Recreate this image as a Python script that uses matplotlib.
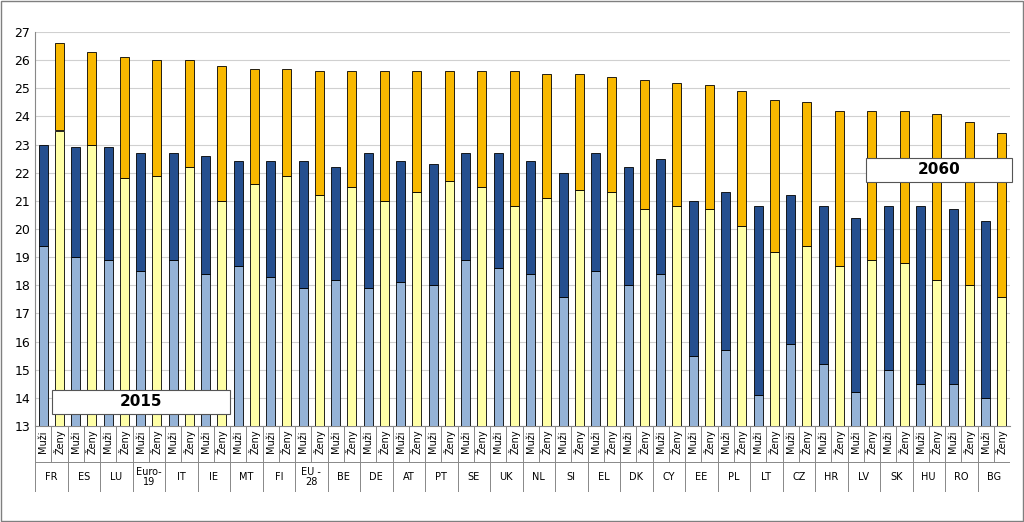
import matplotlib.pyplot as plt
import numpy as np

countries = ["FR", "ES", "LU", "Euro-\n19", "IT", "IE", "MT", "FI", "EU -\n28", "BE",
             "DE", "AT", "PT", "SE", "UK", "NL", "SI", "EL", "DK", "CY",
             "EE", "PL", "LT", "CZ", "HR", "LV", "SK", "HU", "RO", "BG"]
men_2015 = [19.4, 19.0, 18.9, 18.5, 18.9, 18.4, 18.7, 18.3, 17.9, 18.2,
            17.9, 18.1, 18.0, 18.9, 18.6, 18.4, 17.6, 18.5, 18.0, 18.4,
            15.5, 15.7, 14.1, 15.9, 15.2, 14.2, 15.0, 14.5, 14.5, 14.0]
men_2060 = [23.0, 22.9, 22.9, 22.7, 22.7, 22.6, 22.4, 22.4, 22.4, 22.2,
            22.7, 22.4, 22.3, 22.7, 22.7, 22.4, 22.0, 22.7, 22.2, 22.5,
            21.0, 21.3, 20.8, 21.2, 20.8, 20.4, 20.8, 20.8, 20.7, 20.3]
women_2015 = [23.5, 23.0, 21.8, 21.9, 22.2, 21.0, 21.6, 21.9, 21.2, 21.5,
              21.0, 21.3, 21.7, 21.5, 20.8, 21.1, 21.4, 21.3, 20.7, 20.8,
              20.7, 20.1, 19.2, 19.4, 18.7, 18.9, 18.8, 18.2, 18.0, 17.6]
women_2060 = [26.6, 26.3, 26.1, 26.0, 26.0, 25.8, 25.7, 25.7, 25.6, 25.6,
              25.6, 25.6, 25.6, 25.6, 25.6, 25.5, 25.5, 25.4, 25.3, 25.2,
              25.1, 24.9, 24.6, 24.5, 24.2, 24.2, 24.2, 24.1, 23.8, 23.4]
sex_labels = ["Muži", "Ženy"]

BASE = 13
W, H = 1024, 522
fig = plt.figure(figsize=(10.24, 5.22), dpi=100)
ax = fig.add_axes([35 / W, (H - 426) / H, 975 / W, 394 / H])
n = len(countries)
xm = np.arange(n) * 2
xf = xm + 1
m15 = np.array(men_2015); m60 = np.array(men_2060)
f15 = np.array(women_2015); f60 = np.array(women_2060)
kw = dict(width=0.55, edgecolor="black", linewidth=0.6, zorder=3)
ax.bar(xm, m15 - BASE, bottom=BASE, color="#95B3D7", **kw)
ax.bar(xm, m60 - m15, bottom=m15, color="#254F8F", **kw)
ax.bar(xf, f15 - BASE, bottom=BASE, color="#FFFFA6", **kw)
ax.bar(xf, f60 - f15, bottom=f15, color="#F8B800", **kw)
ax.set_xlim(-0.5, 2 * n - 0.5)
ax.set_ylim(13, 27)
ax.set_yticks(range(13, 28))
ax.tick_params(axis="y", labelsize=9, length=0)
ax.set_xticks([])
ax.grid(axis="y", color="#D0D0D0", linewidth=0.8, zorder=0)
for s in ["top", "right"]:
    ax.spines[s].set_visible(False)
ax.spines["left"].set_color("#888888")
ax.spines["bottom"].set_color("#888888")

# category label rows
lab = fig.add_axes([35 / W, (H - 492) / H, 975 / W, 66 / H])
lab.set_xlim(-0.5, 2 * n - 0.5)
lab.set_ylim(0, 66)
lab.axis("off")
for i in range(n):
    for j, x in enumerate([xm[i], xf[i]]):
        lab.text(x, 50, sex_labels[j], rotation=90, ha="center", va="center", fontsize=7)
        lab.plot([x + 0.5, x + 0.5], [30, 66], color="#888888", lw=0.7)
    lab.plot([xf[i] + 0.5] * 2, [0, 30], color="#888888", lw=0.7)
    lab.text(xm[i] + 0.5, 15, countries[i], ha="center", va="center", fontsize=7,
             linespacing=1.1)
lab.plot([-0.5, -0.5], [0, 66], color="#888888", lw=0.7)
lab.plot([-0.5, 2 * n - 0.5], [30, 30], color="#888888", lw=0.7)

# year boxes
for (x0, y0, w, h, txt) in [(52, 390, 178, 24, "2015"), (866, 158, 146, 24, "2060")]:
    fig.patches.append(plt.Rectangle((x0 / W, 1 - (y0 + h) / H), w / W, h / H,
                                     transform=fig.transFigure, fc="white",
                                     ec="#555555", lw=0.8, zorder=5))
    fig.text((x0 + w / 2) / W, 1 - (y0 + h / 2) / H, txt, ha="center", va="center",
             fontsize=11, fontweight="bold", zorder=6)

fig.patches.append(plt.Rectangle((1 / W, 1 / H), 1 - 2 / W, 1 - 2 / H, transform=fig.transFigure,
                                 fc="none", ec="#7F7F7F", lw=1))
fig.savefig("out.png", dpi=100)
